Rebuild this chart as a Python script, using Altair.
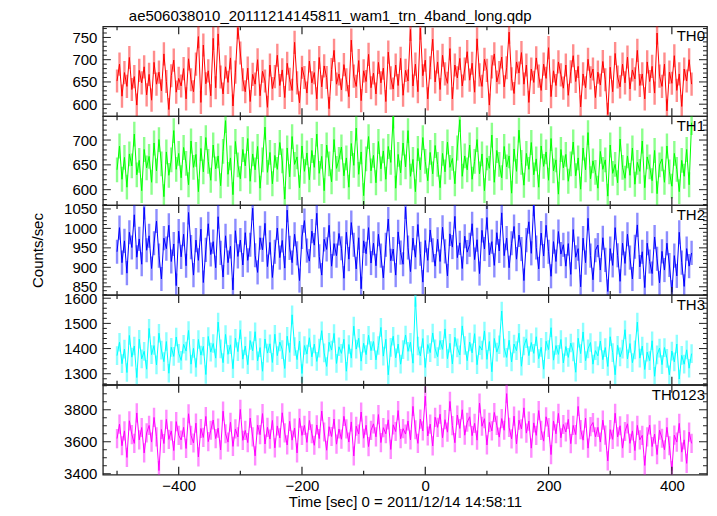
import altair as alt
import pandas as pd

# bin centres (s), 4-s bins
times = list(range(-500, 433, 4))

th0 = [
    652, 690, 618, 671, 640, 705, 633, 662, 598, 676, 648, 684, 621,
    667, 609, 694, 645, 672, 630, 713, 651, 588, 664, 699, 627, 658,
    641, 680, 612, 702, 655, 628, 690, 752, 604, 733, 646, 675, 619,
    748, 637, 758, 661, 623, 684, 649, 704, 596, 672, 772, 715, 655,
    628, 681, 606, 667, 645, 700, 619, 674, 652, 593, 688, 635, 662,
    710, 642, 677, 615, 692, 656, 631, 739, 648, 603, 683, 660, 625,
    697, 648, 671, 612, 705, 639, 686, 660, 590, 678, 721, 645, 668,
    632, 689, 655, 617, 744, 663, 640, 698, 608, 675, 651, 712, 637,
    670, 623, 694, 648, 681, 606, 717, 659, 634, 688, 642, 703, 620,
    676, 652, 768, 641, 690, 628, 771, 664, 699, 612, 682, 746, 650,
    695, 633, 710, 668, 647, 725, 612, 688, 659, 703, 641, 679, 718,
    654, 692, 627, 747, 666, 640, 701, 676, 598, 684, 713, 650, 671,
    706, 639, 682, 762, 657, 624, 695, 670, 716, 645, 688, 604, 679,
    649, 704, 663, 631, 690, 658, 727, 617, 675, 642, 695, 666, 636,
    688, 620, 673, 709, 651, 685, 594, 668, 637, 701, 659, 679, 615,
    672, 643, 696, 655, 577, 683, 628, 714, 661, 639, 690, 648, 706,
    634, 677, 657, 721, 642, 668, 612, 695, 651, 685, 625, 760, 663,
    640, 690, 585, 672, 647, 709, 631, 668, 595, 679, 652, 700, 645,
]

th1 = [
    640, 688, 621, 665, 605, 672, 648, 712, 630, 659, 598, 681, 644,
    667, 615, 694, 638, 701, 652, 586, 676, 629, 660, 719, 641, 673,
    624, 685, 653, 610, 698, 645, 671, 596, 683, 636, 705, 657, 619,
    690, 642, 668, 608, 677, 739, 631, 664, 590, 697, 650, 622, 681,
    648, 703, 617, 672, 640, 687, 603, 660, 726, 635, 675, 612, 669,
    641, 695, 658, 581, 684, 626, 707, 651, 666, 604, 688, 637, 674,
    620, 679, 645, 712, 633, 667, 598, 690, 652, 616, 701, 643, 661,
    686, 628, 664, 605, 693, 649, 724, 631, 676, 588, 662, 707, 638,
    669, 614, 697, 642, 678, 621, 687, 655, 748, 603, 671, 634, 694,
    646, 719, 627, 661, 596, 683, 640, 705, 657, 618, 675, 632, 689,
    651, 604, 673, 636, 696, 645, 663, 612, 684, 741, 627, 668, 640,
    690, 621, 657, 701, 632, 672, 598, 664, 643, 710, 615, 679, 651,
    624, 687, 646, 668, 593, 682, 637, 720, 655, 609, 673, 641, 695,
    630, 662, 605, 688, 647, 676, 619, 703, 638, 660, 591, 681, 644,
    671, 617, 652, 696, 628, 664, 601, 684, 640, 715, 622, 658, 635,
    603, 677, 641, 660, 587, 690, 633, 651, 614, 702, 645, 623, 668,
    629, 684, 611, 655, 637, 698, 604, 666, 646, 618, 679, 592, 650,
    662, 615, 688, 636, 607, 673, 641, 596, 659, 627, 681, 610, 735,
]

th2 = [
    940, 1002, 912, 968, 885, 990, 951, 1035, 926, 973, 908, 1054, 944,
    981, 897, 962, 1019, 930, 870, 975, 948, 1008, 915, 960, 853, 993,
    927, 985, 904, 1041, 952, 880, 970, 918, 998, 861, 945, 1012, 933,
    966, 899, 1030, 937, 875, 981, 912, 954, 842, 994, 928, 970, 906,
    989, 918, 958, 1052, 931, 887, 976, 945, 1013, 902, 964, 874, 940,
    1001, 925, 969, 898, 1047, 950, 912, 985, 936, 866, 978, 1020, 943,
    916, 993, 957, 1039, 928, 880, 972, 946, 1008, 903, 961, 930, 987,
    949, 872, 990, 921, 1015, 958, 896, 976, 845, 968, 935, 1002, 911,
    962, 904, 985, 930, 873, 958, 1024, 917, 947, 880, 991, 938, 908,
    1055, 951, 889, 975, 926, 1010, 935, 862, 969, 918, 996, 944, 903,
    972, 915, 1003, 941, 878, 986, 952, 1031, 925, 963, 897, 980, 939,
    958, 1012, 920, 971, 884, 995, 947, 1028, 932, 966, 905, 989, 942,
    1040, 930, 975, 899, 962, 1005, 921, 983, 947, 866, 970, 1017, 936,
    1062, 951, 896, 988, 929, 1008, 940, 877, 966, 915, 992, 934, 958,
    903, 961, 882, 997, 926, 948, 850, 975, 912, 1026, 930, 868, 944,
    957, 893, 976, 919, 838, 948, 905, 1002, 931, 864, 962, 910, 985,
    925, 870, 953, 1009, 901, 940, 848, 962, 915, 884, 978, 922, 860,
    941, 893, 962, 906, 836, 930, 878, 990, 912, 851, 948, 903, 937,
]

th3 = [
    1372, 1425, 1340, 1398, 1305, 1452, 1366, 1410, 1285, 1437, 1359, 1389, 1318,
    1480, 1376, 1412, 1335, 1461, 1394, 1348, 1428, 1302, 1405, 1369, 1446, 1381,
    1353, 1417, 1390, 1472, 1338, 1401, 1325, 1436, 1374, 1409, 1297, 1448, 1386,
    1420, 1362, 1505, 1399, 1344, 1456, 1377, 1415, 1320, 1441, 1388, 1475, 1358,
    1410, 1336, 1432, 1391, 1467, 1351, 1404, 1310, 1438, 1382, 1419, 1345, 1457,
    1372, 1426, 1396, 1321, 1449, 1385, 1534, 1408, 1356, 1430, 1301, 1412, 1378,
    1443, 1367, 1418, 1349, 1402, 1471, 1383, 1329, 1425, 1394, 1460, 1341, 1407,
    1381, 1437, 1310, 1416, 1362, 1489, 1398, 1441, 1350, 1421, 1376, 1453, 1392,
    1428, 1355, 1412, 1484, 1370, 1437, 1296, 1405, 1449, 1363, 1418, 1338, 1396,
    1454, 1389, 1425, 1342, 1603, 1410, 1371, 1440, 1325, 1416, 1384, 1462, 1399,
    1368, 1432, 1397, 1478, 1360, 1421, 1339, 1445, 1403, 1375, 1490, 1412, 1352,
    1426, 1383, 1459, 1336, 1411, 1394, 1470, 1357, 1428, 1308, 1440, 1386, 1415,
    1549, 1402, 1365, 1433, 1347, 1418, 1392, 1461, 1330, 1410, 1439, 1372, 1424,
    1381, 1447, 1360, 1405, 1318, 1429, 1396, 1483, 1354, 1412, 1377, 1436, 1343,
    1408, 1365, 1422, 1387, 1306, 1441, 1380, 1466, 1352, 1399, 1424, 1338, 1392,
    1371, 1430, 1356, 1404, 1329, 1447, 1384, 1296, 1413, 1367, 1398, 1475, 1359,
    1420, 1344, 1395, 1505, 1362, 1410, 1317, 1386, 1352, 1431, 1290, 1375, 1402,
    1336, 1404, 1361, 1296, 1390, 1347, 1418, 1279, 1373, 1338, 1395, 1322, 1380,
]

th0123 = [
    3620, 3710, 3575, 3668, 3502, 3731, 3645, 3590, 3780, 3612, 3689, 3530, 3655,
    3702, 3598, 3752, 3631, 3420, 3677, 3589, 3740, 3615, 3668, 3545, 3726, 3640,
    3611, 3690, 3558, 3775, 3640, 3592, 3716, 3505, 3683, 3627, 3758, 3601, 3672,
    3736, 3620, 3685, 3549, 3791, 3650, 3598, 3722, 3571, 3680, 3630, 3802, 3609,
    3671, 3595, 3748, 3630, 3512, 3705, 3644, 3776, 3586, 3690, 3617, 3733, 3562,
    3699, 3624, 3781, 3655, 3580, 3728, 3610, 3686, 3530, 3747, 3640, 3702, 3596,
    3733, 3650, 3578, 3705, 3620, 3792, 3661, 3547, 3694, 3633, 3742, 3585, 3680,
    3616, 3759, 3680, 3598, 3724, 3511, 3697, 3648, 3786, 3622, 3703, 3570, 3671,
    3712, 3631, 3770, 3595, 3688, 3650, 3737, 3552, 3706, 3664, 3795, 3619, 3682,
    3648, 3730, 3612, 3821, 3675, 3590, 3742, 3668, 3885, 3636, 3710, 3574, 3753,
    3690, 3772, 3625, 3738, 3660, 3852, 3701, 3594, 3767, 3683, 3800, 3641, 3722,
    3756, 3638, 3715, 3610, 3842, 3697, 3744, 3580, 3721, 3668, 3783, 3702, 3629,
    3745, 3672, 3901, 3690, 3618, 3760, 3586, 3735, 3680, 3812, 3654, 3729, 3560,
    3718, 3640, 3795, 3671, 3604, 3756, 3689, 3520, 3730, 3650, 3777, 3625, 3708,
    3661, 3740, 3588, 3702, 3645, 3821, 3676, 3610, 3748, 3560, 3695, 3720, 3631,
    3690, 3598, 3735, 3642, 3480, 3676, 3615, 3778, 3630, 3700, 3560, 3664, 3712,
    3590, 3668, 3545, 3702, 3612, 3640, 3452, 3631, 3705, 3570, 3648, 3520, 3672,
    3622, 3550, 3690, 3575, 3420, 3641, 3598, 3715, 3535, 3612, 3465, 3660, 3590,
]

series = [th0, th1, th2, th3, th0123]
panel_names = ["TH0", "TH1", "TH2", "TH3", "TH0123"]
panel_colors = ["#ff0000", "#00ff00", "#0000ff", "#00ffff", "#ff00ff"]
panel_errors = [26, 25, 31, 37, 60]
panel_domains = [[573, 775], [569, 748], [829, 1060], [1256, 1613], [3394, 3956]]
panel_major = [
    [600, 650, 700, 750],
    [600, 650, 700],
    [850, 900, 950, 1000, 1050],
    [1300, 1400, 1500, 1600],
    [3400, 3600, 3800],
]
panel_minor_step = [10, 10, 10, 20, 50]
panel_heights = [90, 89, 90, 90, 90]

x_domain = [-523, 457]
x_major = [-400, -200, 0, 200, 400]
x_minor = [-500, -300, -100, 100, 300]

title_text = "ae506038010_20111214145811_wam1_trn_4band_long.qdp"
x_title = "Time [sec] 0 = 2011/12/14 14:58:11"
y_title = "Counts/sec"

FONT = "Liberation Sans"
W = 605
FRAME = "#222222"


def minor_ticks(i):
    lo, hi = panel_domains[i]
    step = panel_minor_step[i]
    start = (lo // step + 1) * step
    return [v for v in range(start, hi + 1, step) if v not in panel_major[i]]


def panel(i):
    h = panel_heights[i]
    vals = series[i]
    n = min(len(vals), len(times))
    df = pd.DataFrame({"t": times[:n], "rate": vals[:n]})
    df["lo"] = df["rate"] - panel_errors[i]
    df["hi"] = df["rate"] + panel_errors[i]

    xs = alt.Scale(domain=x_domain, nice=False, zero=False)
    ys = alt.Scale(domain=panel_domains[i], nice=False, zero=False)
    bottom = i == len(series) - 1

    if bottom:
        xenc = alt.X("t:Q", scale=xs, title=x_title,
                     axis=alt.Axis(values=x_major, ticks=False, domain=False, grid=False,
                                   format="d", labelOverlap=False,
                                   labelFontSize=15, labelPadding=4, labelColor="black",
                                   labelFont=FONT, titleFont=FONT, titleFontSize=15,
                                   titleFontWeight="normal", titleColor="black",
                                   titlePadding=1, labelFlush=False))
    else:
        xenc = alt.X("t:Q", scale=xs, axis=None)

    yaxis_kw = dict(values=panel_major[i], ticks=False, domain=False, grid=False,
                    format="d", labelOverlap=False,
                    labelFontSize=15, labelPadding=6, labelColor="black",
                    labelFont=FONT, labelFlush=False)
    if i == 2:
        yenc = alt.Y("lo:Q", scale=ys, title=y_title,
                     axis=alt.Axis(titleFont=FONT, titleFontSize=15,
                                   titleFontWeight="normal", titleColor="black",
                                   titlePadding=18, **yaxis_kw))
    else:
        yenc = alt.Y("lo:Q", scale=ys, title=None, axis=alt.Axis(**yaxis_kw))

    col = panel_colors[i]
    err = alt.Chart(df).mark_rule(color=col, opacity=0.45, strokeWidth=2.4, clip=True).encode(
        x=xenc, y=yenc, y2="hi:Q")
    line = alt.Chart(df).mark_line(color=col, strokeWidth=1, clip=True).encode(
        x=alt.X("t:Q", scale=xs, axis=None), y=alt.Y("rate:Q", scale=ys, axis=None))

    xmaj = pd.DataFrame({"xt": x_major})
    xmin = pd.DataFrame({"xt": x_minor})
    ymaj = pd.DataFrame({"yt": panel_major[i]})
    ymin = pd.DataFrame({"yt": minor_ticks(i)})

    def xt(d, y0, y1):
        return alt.Chart(d).mark_rule(color=FRAME, strokeWidth=1.2).encode(
            x=alt.X("xt:Q", scale=xs, axis=None), y=alt.value(y0), y2=alt.value(y1))

    def yt(d, x0, x1):
        return alt.Chart(d).mark_rule(color=FRAME, strokeWidth=1).encode(
            y=alt.Y("yt:Q", scale=ys, axis=None), x=alt.value(x0), x2=alt.value(x1))

    ticks = [
        xt(xmaj, 0, 8), xt(xmaj, h, h - 8), xt(xmin, 0, 4), xt(xmin, h, h - 4),
        yt(ymaj, 0, 8), yt(ymaj, W, W - 8), yt(ymin, 0, 4), yt(ymin, W, W - 4),
    ]

    lab = alt.Chart(pd.DataFrame({"name": [panel_names[i]]})).mark_text(
        align="right", baseline="top", fontSize=15, font=FONT, color="black"
    ).encode(x=alt.value(W - 2), y=alt.value(3), text="name:N")

    return alt.layer(err, line, *ticks, lab).resolve_axis(
        x="independent", y="independent"
    ).properties(width=W, height=h)


chart = alt.vconcat(*[panel(i) for i in range(len(series))], spacing=0, bounds="flush").properties(
    title=alt.TitleParams(title_text, anchor="start", fontSize=15, fontWeight="normal",
                          font=FONT, color="black", offset=1, dx=99),
    padding={"left": 21, "top": 0, "right": 0, "bottom": 0},
).configure_view(stroke=FRAME, strokeWidth=1.3).configure_concat(spacing=0)

chart.save("out.html", embed_options={"renderer": "svg", "actions": False})
